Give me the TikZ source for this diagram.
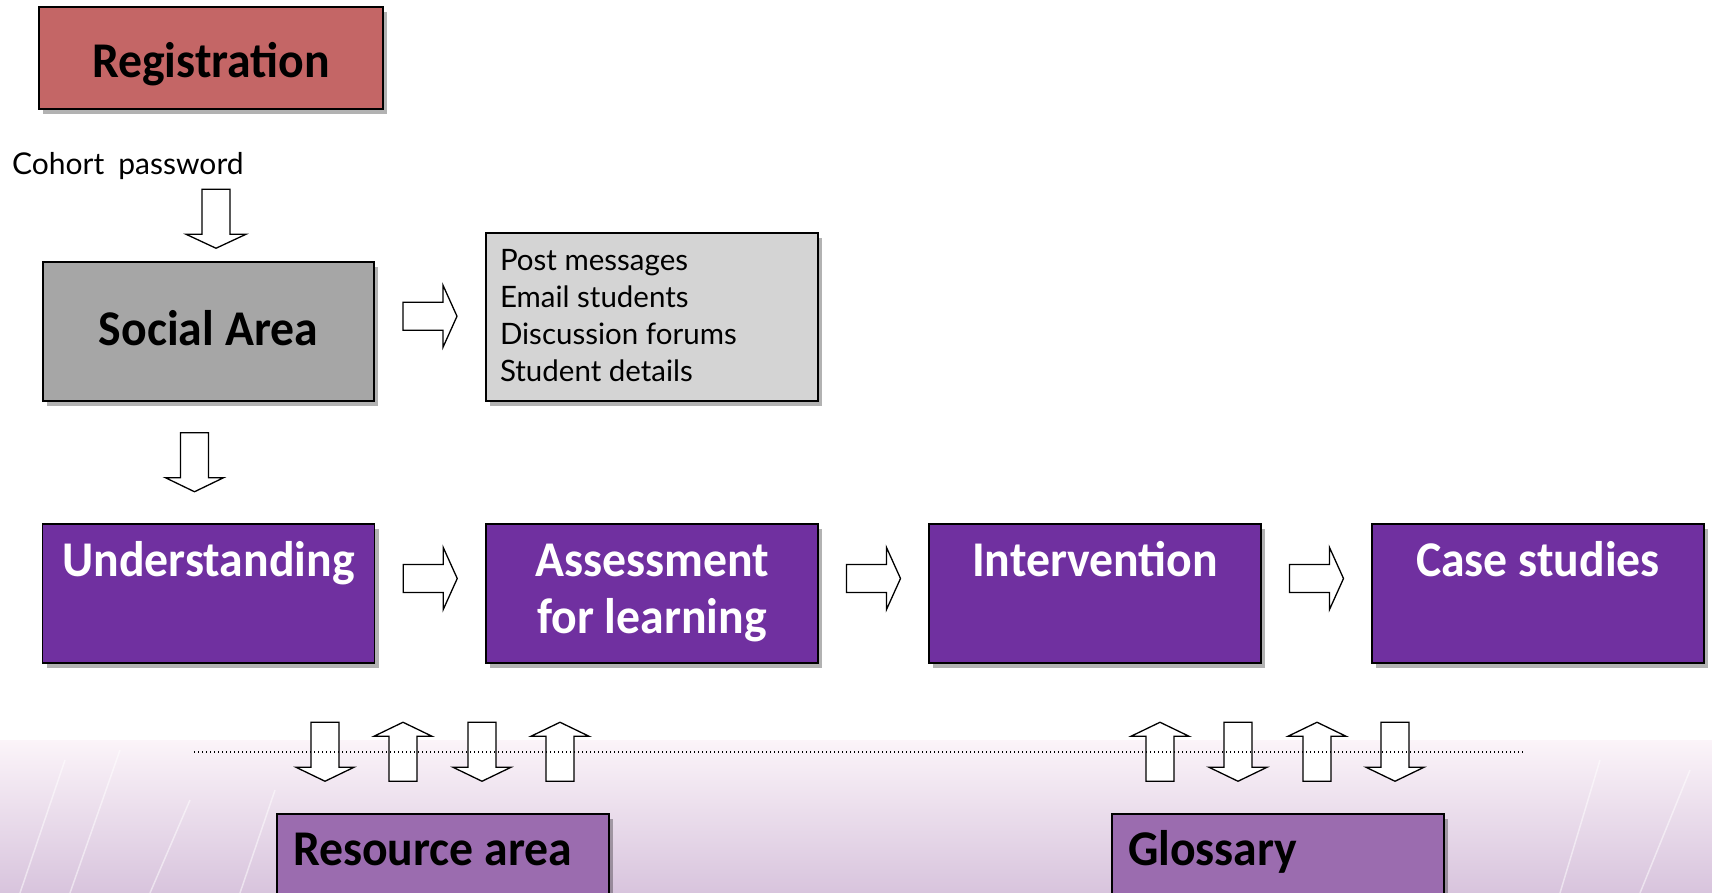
\documentclass[tikz,border=0pt]{standalone}
\usepackage{fontspec}
\setmainfont{Carlito}[FakeStretch=0.955]
\newfontfamily\notefont{Lato}
\usetikzlibrary{calc,shadows}

\definecolor{regred}{RGB}{196,102,102}
\definecolor{socialgrey}{RGB}{166,166,166}
\definecolor{listgrey}{RGB}{212,212,212}
\definecolor{stagepurple}{RGB}{112,48,160}
\definecolor{areapurple}{RGB}{155,108,175}
\definecolor{bandtop}{RGB}{251,244,249}
\definecolor{bandbottom}{RGB}{216,196,221}

% text inside a box: height, set-up, first baseline, lines
\newcommand{\boxtext}[4]{\parbox[c][#1][t]{332pt}{#2\rule{0pt}{#3}\ignorespaces#4}}

\tikzset{
	pics/blockarrow/.style 2 args={code={
		\draw[arrowline] (-14,-#1/2) -- (14,-#1/2) -- (14,#1/2-14) -- (#2,#1/2-14) -- (0,#1/2) -- (-#2,#1/2-14) -- (-14,#1/2-14) -- cycle;
	}},
}

\begin{document}
\begin{tikzpicture}[x=1pt,y=-1pt,
	shadowed/.style={drop shadow={shadow xshift=4pt,shadow yshift=-5pt,opacity=.3,fill=black}},
	plainbox/.style={draw=black,line width=1.5pt,inner sep=0pt,shadowed},
	stagebox/.style={plainbox,fill=stagepurple,text=white,font=\bfseries\fontsize{50}{57}\selectfont},
	areabox/.style={plainbox,fill=areapurple,text=black,font=\bfseries\fontsize{50}{57}\selectfont},
	arrowline/.style={draw=black,fill=white,line width=1.3pt,line join=miter},
	]
	\clip (0,0) rectangle (1712,893);
	\fill[white] (0,0) rectangle (1712,893);
	\shade[top color=bandtop,bottom color=bandbottom] (0,740) rectangle (1712,893);
	\foreach \sx/\ex/\ey in {20/65/760,70/120/750,150/190/800,240/275/790,1560/1600/760,1640/1690/770}
		\draw[white,opacity=.5,line width=1.5pt] (\sx,893) -- (\ex,\ey);

	\node[plainbox,fill=regred,minimum width=344pt,minimum height=102pt,text height=40pt,text depth=0pt,
		font=\bfseries\fontsize{50}{57}\selectfont] (registration) at (211,58) {Registration};
	\node[anchor=base west,inner sep=0pt,font=\notefont\fontsize{30}{36}\selectfont] (cohort) at (12,175) {Cohort\hspace{14pt}password};

	\node[plainbox,fill=socialgrey,minimum width=331pt,minimum height=139pt,text height=34pt,text depth=7pt,
		font=\bfseries\fontsize{50}{57}\selectfont] (social) at (208.5,331.5) {Social Area};
	\node[plainbox,fill=listgrey] (posts) at (652,317)
		{\boxtext{168pt}{\notefont\fontsize{29.5}{37.3}\selectfont\leftskip=14pt}{37pt}{Post messages\\Email students\\Discussion forums\\Student details}};

	\node[stagebox] (understanding) at (208.5,593.5) {\boxtext{139pt}{\centering}{52pt}{Understanding}};
	\node[stagebox] (assessment) at (652,593.5) {\boxtext{139pt}{\centering}{52pt}{Assessment\\for learning}};
	\node[stagebox] (intervention) at (1095,593.5) {\boxtext{139pt}{\centering}{52pt}{Intervention}};
	\node[stagebox] (cases) at (1538,593.5) {\boxtext{139pt}{\centering}{52pt}{Case studies}};

	\node[areabox] (resource) at (443,879) {\boxtext{130pt}{\hspace*{16pt}}{51pt}{Resource area}};
	\node[areabox] (glossary) at (1278,879) {\boxtext{130pt}{\hspace*{16pt}}{51pt}{Glossary}};

	\pic at ($(social.north)+(7.5,-42.5)$) {blockarrow={59}{30}};
	\pic at ($(social.south)+(-14,60.5)$) {blockarrow={59}{29}};
	\pic[rotate=90] at ($(social.east)!.5!(posts.west)+(0,-8)$) {blockarrow={54}{31}};
	\pic[rotate=90] at ($(understanding.east)!.5!(assessment.west)+(0,-15)$) {blockarrow={54}{31}};
	\pic[rotate=90] at ($(assessment.east)!.5!(intervention.west)+(0,-15)$) {blockarrow={54}{31}};
	\pic[rotate=90] at ($(intervention.east)!.5!(cases.west)+(0,-15)$) {blockarrow={54}{31}};

	\foreach \dx/\rot in {-118/0,-40/180,39/0,117/180}
		\pic[rotate=\rot] at ($(resource.north)+(\dx,-61.5)$) {blockarrow={59}{29}};
	\foreach \dx/\rot in {-118/180,-40/0,39/180,117/0}
		\pic[rotate=\rot] at ($(glossary.north)+(\dx,-61.5)$) {blockarrow={59}{29}};

	\draw[line width=1.3pt,dash pattern=on 1.3pt off 2.7pt] (194,752) -- (1524,752);
\end{tikzpicture}
\end{document}
